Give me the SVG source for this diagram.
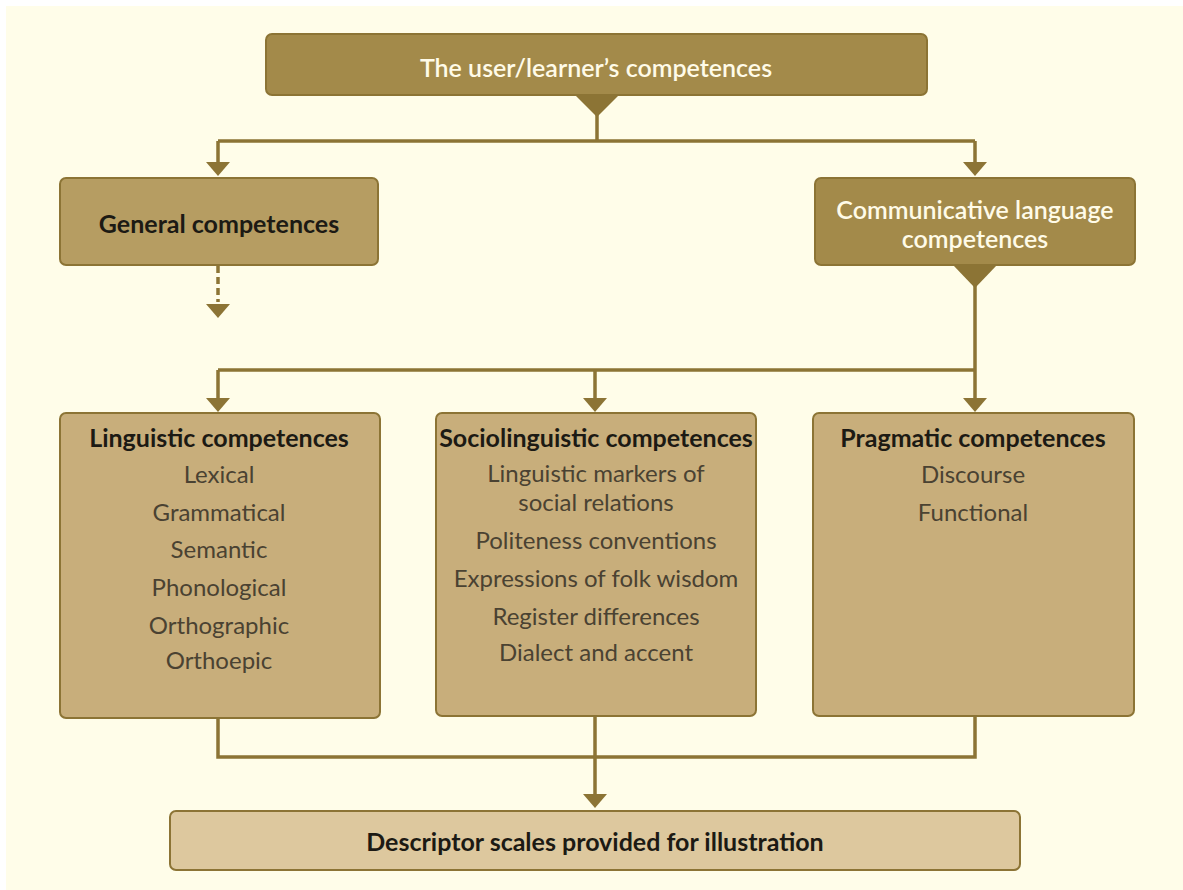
<svg xmlns="http://www.w3.org/2000/svg" width="1183" height="890" viewBox="0 0 1183 890">
<defs>
<style>
.dark{fill:#a38a4a;stroke:#8c7435;stroke-width:2}
.gen{fill:#b69d62;stroke:#8c7435;stroke-width:2}
.mid{fill:#c8ae7b;stroke:#8c7435;stroke-width:2}
.low{fill:#ddc89e;stroke:#8c7435;stroke-width:2}
.ln{fill:none;stroke:#8c7435;stroke-width:3.5}
.ah{fill:#8c7435}
text{font-family:Lato,"Noto Sans",sans-serif;text-anchor:middle}
.w{fill:#fffbe8;font-size:25px;font-weight:600}
.h{fill:#1c1a14;font-size:25px;font-weight:bold}
.i{fill:#4a4232;font-size:24px}
</style>
</defs>
<rect x="0" y="0" width="1183" height="890" fill="#ffffff"/>
<rect x="6" y="6" width="1177" height="884" fill="#fffde9"/>
<g id="connectors">
<polygon class="ah" points="575,95 619,95 597,117"/>
<path class="ln" d="M597,112 V141 M218,141 H975 M218,141 V165 M975,141 V165"/>
<polygon class="ah" points="206,162 230,162 218,176"/>
<polygon class="ah" points="963,162 987,162 975,176"/>
<path class="ln" d="M218,266 V302" stroke-dasharray="7,4"/>
<polygon class="ah" points="206,304 230,304 218,318"/>
<polygon class="ah" points="953,265 997,265 975,288"/>
<path class="ln" d="M975,283 V400 M218,370 H975 M218,370 V400 M595,370 V400"/>
<polygon class="ah" points="206,398 230,398 218,412"/>
<polygon class="ah" points="583,398 607,398 595,412"/>
<polygon class="ah" points="963,398 987,398 975,412"/>
<path class="ln" d="M218,718 V757 H975 V716 M595,716 V795"/>
<polygon class="ah" points="583,794 607,794 595,808"/>
</g>
<g id="n-top">
<rect class="dark" x="266" y="34" width="661" height="61" rx="6"/>
<text class="w" x="596" y="77">The user/learner’s competences</text>
</g>
<g id="n-general">
<rect class="gen" x="60" y="178" width="318" height="87" rx="6"/>
<text class="h" x="219" y="233">General competences</text>
</g>
<g id="n-communicative">
<rect class="dark" x="815" y="178" width="320" height="87" rx="6"/>
<text class="w" x="975" y="219">Communicative language</text>
<text class="w" x="975" y="248">competences</text>
</g>
<g id="n-linguistic">
<rect class="mid" x="60" y="413" width="320" height="305" rx="6"/>
<text class="h" x="219" y="447">Linguistic competences</text>
<text class="i" x="219" y="483">Lexical</text>
<text class="i" x="219" y="521">Grammatical</text>
<text class="i" x="219" y="558">Semantic</text>
<text class="i" x="219" y="596">Phonological</text>
<text class="i" x="219" y="634">Orthographic</text>
<text class="i" x="219" y="669">Orthoepic</text>
</g>
<g id="n-sociolinguistic">
<rect class="mid" x="436" y="413" width="320" height="303" rx="6"/>
<text class="h" x="596" y="447">Sociolinguistic competences</text>
<text class="i" x="596" y="482">Linguistic markers of</text>
<text class="i" x="596" y="511">social relations</text>
<text class="i" x="596" y="549">Politeness conventions</text>
<text class="i" x="596" y="587">Expressions of folk wisdom</text>
<text class="i" x="596" y="625">Register differences</text>
<text class="i" x="596" y="661">Dialect and accent</text>
</g>
<g id="n-pragmatic">
<rect class="mid" x="813" y="413" width="321" height="303" rx="6"/>
<text class="h" x="973" y="447">Pragmatic competences</text>
<text class="i" x="973" y="483">Discourse</text>
<text class="i" x="973" y="521">Functional</text>
</g>
<g id="n-descriptor">
<rect class="low" x="170" y="811" width="850" height="59" rx="6"/>
<text class="h" x="595" y="851">Descriptor scales provided for illustration</text>
</g>
</svg>
